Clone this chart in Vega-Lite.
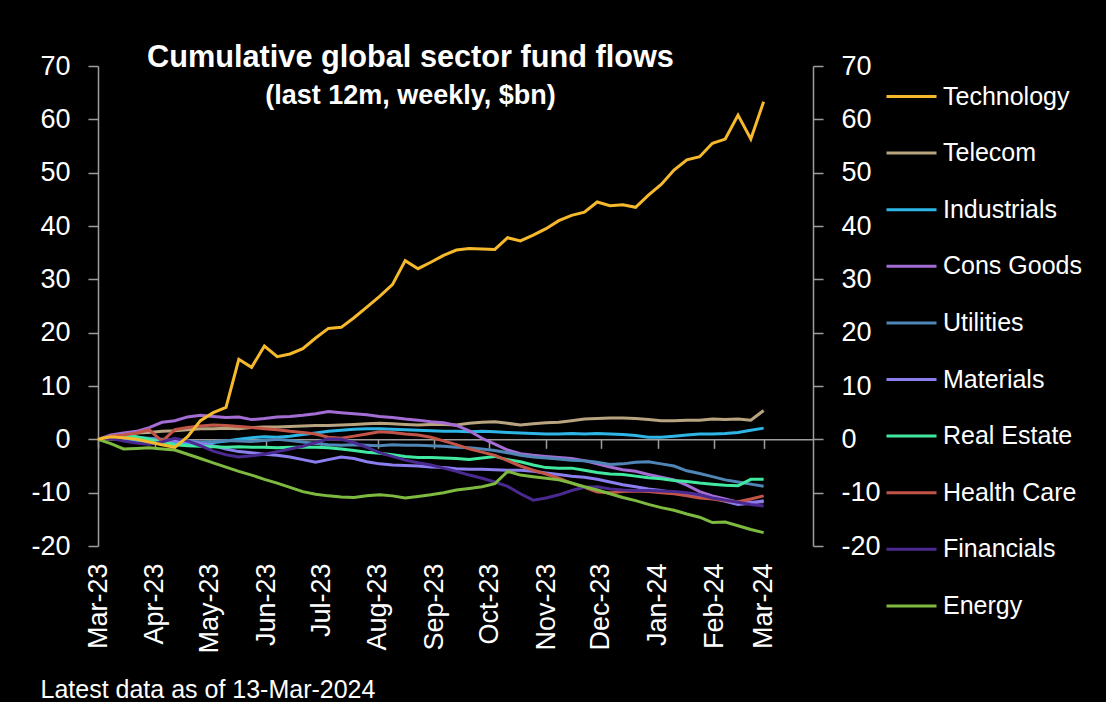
{
  "$schema": "https://vega.github.io/schema/vega-lite/v6.json",
  "width": 715,
  "height": 480,
  "autosize": {"type": "none"},
  "padding": {"left": 98, "top": 66, "right": 293, "bottom": 156},
  "background": "#000000",
  "config": {"view": {"stroke": null}, "font": "Liberation Sans"},
  "title": {
    "text": "Cumulative global sector fund flows",
    "subtitle": "(last 12m, weekly, $bn)",
    "font": "Liberation Sans",
    "fontSize": 30.7,
    "fontWeight": "bold",
    "color": "#FFFFFF",
    "subtitleFont": "Liberation Sans",
    "subtitleFontSize": 27,
    "subtitleFontWeight": "bold",
    "subtitleColor": "#FFFFFF",
    "subtitlePadding": 9,
    "anchor": "middle",
    "dx": -45,
    "offset": -58
  },
  "data": {"values": [
{"date":"2023-03-15","sector":"Technology","value":0},{"date":"2023-03-22","sector":"Technology","value":0.5},{"date":"2023-03-29","sector":"Technology","value":0.3},{"date":"2023-04-05","sector":"Technology","value":0},{"date":"2023-04-12","sector":"Technology","value":-0.5},{"date":"2023-04-19","sector":"Technology","value":-1},{"date":"2023-04-26","sector":"Technology","value":-1.5},{"date":"2023-05-03","sector":"Technology","value":0.5},{"date":"2023-05-10","sector":"Technology","value":3.5},{"date":"2023-05-17","sector":"Technology","value":5.0},{"date":"2023-05-24","sector":"Technology","value":6.0},{"date":"2023-05-31","sector":"Technology","value":15.0},{"date":"2023-06-07","sector":"Technology","value":13.5},{"date":"2023-06-14","sector":"Technology","value":17.5},{"date":"2023-06-21","sector":"Technology","value":15.5},{"date":"2023-06-28","sector":"Technology","value":16.0},{"date":"2023-07-05","sector":"Technology","value":17.0},{"date":"2023-07-12","sector":"Technology","value":19.0},{"date":"2023-07-19","sector":"Technology","value":20.8},{"date":"2023-07-26","sector":"Technology","value":21.0},{"date":"2023-08-02","sector":"Technology","value":22.8},{"date":"2023-08-09","sector":"Technology","value":24.8},{"date":"2023-08-16","sector":"Technology","value":26.8},{"date":"2023-08-23","sector":"Technology","value":29.0},{"date":"2023-08-30","sector":"Technology","value":33.5},{"date":"2023-09-06","sector":"Technology","value":32.0},{"date":"2023-09-13","sector":"Technology","value":33.2},{"date":"2023-09-20","sector":"Technology","value":34.5},{"date":"2023-09-27","sector":"Technology","value":35.5},{"date":"2023-10-04","sector":"Technology","value":35.8},{"date":"2023-10-11","sector":"Technology","value":35.7},{"date":"2023-10-18","sector":"Technology","value":35.6},{"date":"2023-10-25","sector":"Technology","value":37.8},{"date":"2023-11-01","sector":"Technology","value":37.2},{"date":"2023-11-08","sector":"Technology","value":38.3},{"date":"2023-11-15","sector":"Technology","value":39.5},{"date":"2023-11-22","sector":"Technology","value":41.0},{"date":"2023-11-29","sector":"Technology","value":42.0},{"date":"2023-12-06","sector":"Technology","value":42.6},{"date":"2023-12-13","sector":"Technology","value":44.5},{"date":"2023-12-20","sector":"Technology","value":43.8},{"date":"2023-12-27","sector":"Technology","value":44.0},{"date":"2024-01-03","sector":"Technology","value":43.5},{"date":"2024-01-10","sector":"Technology","value":45.8},{"date":"2024-01-17","sector":"Technology","value":47.8},{"date":"2024-01-24","sector":"Technology","value":50.5},{"date":"2024-01-31","sector":"Technology","value":52.4},{"date":"2024-02-07","sector":"Technology","value":53.0},{"date":"2024-02-14","sector":"Technology","value":55.5},{"date":"2024-02-21","sector":"Technology","value":56.3},{"date":"2024-02-28","sector":"Technology","value":60.8},{"date":"2024-03-06","sector":"Technology","value":56.3},{"date":"2024-03-13","sector":"Technology","value":63.3},
{"date":"2023-03-15","sector":"Telecom","value":0},{"date":"2023-03-22","sector":"Telecom","value":0.5},{"date":"2023-03-29","sector":"Telecom","value":1.0},{"date":"2023-04-05","sector":"Telecom","value":1.2},{"date":"2023-04-12","sector":"Telecom","value":1.3},{"date":"2023-04-19","sector":"Telecom","value":1.5},{"date":"2023-04-26","sector":"Telecom","value":1.6},{"date":"2023-05-03","sector":"Telecom","value":1.8},{"date":"2023-05-10","sector":"Telecom","value":2.0},{"date":"2023-05-17","sector":"Telecom","value":2.0},{"date":"2023-05-24","sector":"Telecom","value":2.1},{"date":"2023-05-31","sector":"Telecom","value":2.0},{"date":"2023-06-07","sector":"Telecom","value":2.2},{"date":"2023-06-14","sector":"Telecom","value":2.3},{"date":"2023-06-21","sector":"Telecom","value":2.3},{"date":"2023-06-28","sector":"Telecom","value":2.4},{"date":"2023-07-05","sector":"Telecom","value":2.5},{"date":"2023-07-12","sector":"Telecom","value":2.6},{"date":"2023-07-19","sector":"Telecom","value":2.6},{"date":"2023-07-26","sector":"Telecom","value":2.7},{"date":"2023-08-02","sector":"Telecom","value":2.8},{"date":"2023-08-09","sector":"Telecom","value":2.9},{"date":"2023-08-16","sector":"Telecom","value":3.0},{"date":"2023-08-23","sector":"Telecom","value":2.9},{"date":"2023-08-30","sector":"Telecom","value":2.8},{"date":"2023-09-06","sector":"Telecom","value":2.7},{"date":"2023-09-13","sector":"Telecom","value":2.8},{"date":"2023-09-20","sector":"Telecom","value":2.8},{"date":"2023-09-27","sector":"Telecom","value":2.7},{"date":"2023-10-04","sector":"Telecom","value":3.0},{"date":"2023-10-11","sector":"Telecom","value":3.2},{"date":"2023-10-18","sector":"Telecom","value":3.3},{"date":"2023-10-25","sector":"Telecom","value":3.0},{"date":"2023-11-01","sector":"Telecom","value":2.7},{"date":"2023-11-08","sector":"Telecom","value":2.9},{"date":"2023-11-15","sector":"Telecom","value":3.1},{"date":"2023-11-22","sector":"Telecom","value":3.2},{"date":"2023-11-29","sector":"Telecom","value":3.5},{"date":"2023-12-06","sector":"Telecom","value":3.8},{"date":"2023-12-13","sector":"Telecom","value":3.9},{"date":"2023-12-20","sector":"Telecom","value":4.0},{"date":"2023-12-27","sector":"Telecom","value":4.0},{"date":"2024-01-03","sector":"Telecom","value":3.9},{"date":"2024-01-10","sector":"Telecom","value":3.7},{"date":"2024-01-17","sector":"Telecom","value":3.5},{"date":"2024-01-24","sector":"Telecom","value":3.5},{"date":"2024-01-31","sector":"Telecom","value":3.6},{"date":"2024-02-07","sector":"Telecom","value":3.6},{"date":"2024-02-14","sector":"Telecom","value":3.8},{"date":"2024-02-21","sector":"Telecom","value":3.7},{"date":"2024-02-28","sector":"Telecom","value":3.8},{"date":"2024-03-06","sector":"Telecom","value":3.6},{"date":"2024-03-13","sector":"Telecom","value":5.4},
{"date":"2023-03-15","sector":"Industrials","value":0},{"date":"2023-03-22","sector":"Industrials","value":0.3},{"date":"2023-03-29","sector":"Industrials","value":0.2},{"date":"2023-04-05","sector":"Industrials","value":-0.3},{"date":"2023-04-12","sector":"Industrials","value":-0.5},{"date":"2023-04-19","sector":"Industrials","value":-0.3},{"date":"2023-04-26","sector":"Industrials","value":-0.6},{"date":"2023-05-03","sector":"Industrials","value":-0.8},{"date":"2023-05-10","sector":"Industrials","value":-1.0},{"date":"2023-05-17","sector":"Industrials","value":-0.6},{"date":"2023-05-24","sector":"Industrials","value":-0.3},{"date":"2023-05-31","sector":"Industrials","value":0.0},{"date":"2023-06-07","sector":"Industrials","value":0.3},{"date":"2023-06-14","sector":"Industrials","value":0.5},{"date":"2023-06-21","sector":"Industrials","value":0.4},{"date":"2023-06-28","sector":"Industrials","value":0.6},{"date":"2023-07-05","sector":"Industrials","value":0.9},{"date":"2023-07-12","sector":"Industrials","value":1.2},{"date":"2023-07-19","sector":"Industrials","value":1.5},{"date":"2023-07-26","sector":"Industrials","value":1.7},{"date":"2023-08-02","sector":"Industrials","value":1.9},{"date":"2023-08-09","sector":"Industrials","value":2.0},{"date":"2023-08-16","sector":"Industrials","value":2.0},{"date":"2023-08-23","sector":"Industrials","value":1.9},{"date":"2023-08-30","sector":"Industrials","value":1.8},{"date":"2023-09-06","sector":"Industrials","value":1.7},{"date":"2023-09-13","sector":"Industrials","value":1.6},{"date":"2023-09-20","sector":"Industrials","value":1.5},{"date":"2023-09-27","sector":"Industrials","value":1.5},{"date":"2023-10-04","sector":"Industrials","value":1.4},{"date":"2023-10-11","sector":"Industrials","value":1.5},{"date":"2023-10-18","sector":"Industrials","value":1.4},{"date":"2023-10-25","sector":"Industrials","value":1.3},{"date":"2023-11-01","sector":"Industrials","value":1.2},{"date":"2023-11-08","sector":"Industrials","value":1.1},{"date":"2023-11-15","sector":"Industrials","value":1.0},{"date":"2023-11-22","sector":"Industrials","value":1.0},{"date":"2023-11-29","sector":"Industrials","value":1.1},{"date":"2023-12-06","sector":"Industrials","value":1.0},{"date":"2023-12-13","sector":"Industrials","value":1.1},{"date":"2023-12-20","sector":"Industrials","value":1.0},{"date":"2023-12-27","sector":"Industrials","value":0.9},{"date":"2024-01-03","sector":"Industrials","value":0.7},{"date":"2024-01-10","sector":"Industrials","value":0.4},{"date":"2024-01-17","sector":"Industrials","value":0.4},{"date":"2024-01-24","sector":"Industrials","value":0.6},{"date":"2024-01-31","sector":"Industrials","value":0.8},{"date":"2024-02-07","sector":"Industrials","value":1.0},{"date":"2024-02-14","sector":"Industrials","value":1.0},{"date":"2024-02-21","sector":"Industrials","value":1.1},{"date":"2024-02-28","sector":"Industrials","value":1.3},{"date":"2024-03-06","sector":"Industrials","value":1.7},{"date":"2024-03-13","sector":"Industrials","value":2.1},
{"date":"2023-03-15","sector":"Cons Goods","value":0},{"date":"2023-03-22","sector":"Cons Goods","value":0.8},{"date":"2023-03-29","sector":"Cons Goods","value":1.2},{"date":"2023-04-05","sector":"Cons Goods","value":1.5},{"date":"2023-04-12","sector":"Cons Goods","value":2.2},{"date":"2023-04-19","sector":"Cons Goods","value":3.2},{"date":"2023-04-26","sector":"Cons Goods","value":3.5},{"date":"2023-05-03","sector":"Cons Goods","value":4.2},{"date":"2023-05-10","sector":"Cons Goods","value":4.5},{"date":"2023-05-17","sector":"Cons Goods","value":4.3},{"date":"2023-05-24","sector":"Cons Goods","value":4.1},{"date":"2023-05-31","sector":"Cons Goods","value":4.2},{"date":"2023-06-07","sector":"Cons Goods","value":3.7},{"date":"2023-06-14","sector":"Cons Goods","value":3.9},{"date":"2023-06-21","sector":"Cons Goods","value":4.2},{"date":"2023-06-28","sector":"Cons Goods","value":4.3},{"date":"2023-07-05","sector":"Cons Goods","value":4.5},{"date":"2023-07-12","sector":"Cons Goods","value":4.8},{"date":"2023-07-19","sector":"Cons Goods","value":5.2},{"date":"2023-07-26","sector":"Cons Goods","value":5.0},{"date":"2023-08-02","sector":"Cons Goods","value":4.8},{"date":"2023-08-09","sector":"Cons Goods","value":4.6},{"date":"2023-08-16","sector":"Cons Goods","value":4.3},{"date":"2023-08-23","sector":"Cons Goods","value":4.1},{"date":"2023-08-30","sector":"Cons Goods","value":3.8},{"date":"2023-09-06","sector":"Cons Goods","value":3.6},{"date":"2023-09-13","sector":"Cons Goods","value":3.3},{"date":"2023-09-20","sector":"Cons Goods","value":3.1},{"date":"2023-09-27","sector":"Cons Goods","value":2.6},{"date":"2023-10-04","sector":"Cons Goods","value":1.6},{"date":"2023-10-11","sector":"Cons Goods","value":0.2},{"date":"2023-10-18","sector":"Cons Goods","value":-0.9},{"date":"2023-10-25","sector":"Cons Goods","value":-2.0},{"date":"2023-11-01","sector":"Cons Goods","value":-2.7},{"date":"2023-11-08","sector":"Cons Goods","value":-3.0},{"date":"2023-11-15","sector":"Cons Goods","value":-3.2},{"date":"2023-11-22","sector":"Cons Goods","value":-3.4},{"date":"2023-11-29","sector":"Cons Goods","value":-3.6},{"date":"2023-12-06","sector":"Cons Goods","value":-4.0},{"date":"2023-12-13","sector":"Cons Goods","value":-4.6},{"date":"2023-12-20","sector":"Cons Goods","value":-5.2},{"date":"2023-12-27","sector":"Cons Goods","value":-5.7},{"date":"2024-01-03","sector":"Cons Goods","value":-6.0},{"date":"2024-01-10","sector":"Cons Goods","value":-6.6},{"date":"2024-01-17","sector":"Cons Goods","value":-7.1},{"date":"2024-01-24","sector":"Cons Goods","value":-7.6},{"date":"2024-01-31","sector":"Cons Goods","value":-8.6},{"date":"2024-02-07","sector":"Cons Goods","value":-9.8},{"date":"2024-02-14","sector":"Cons Goods","value":-10.6},{"date":"2024-02-21","sector":"Cons Goods","value":-11.2},{"date":"2024-02-28","sector":"Cons Goods","value":-11.8},{"date":"2024-03-06","sector":"Cons Goods","value":-11.8},{"date":"2024-03-13","sector":"Cons Goods","value":-11.7},
{"date":"2023-03-15","sector":"Utilities","value":0},{"date":"2023-03-22","sector":"Utilities","value":0.3},{"date":"2023-03-29","sector":"Utilities","value":0.5},{"date":"2023-04-05","sector":"Utilities","value":0.4},{"date":"2023-04-12","sector":"Utilities","value":0.2},{"date":"2023-04-19","sector":"Utilities","value":0},{"date":"2023-04-26","sector":"Utilities","value":-0.2},{"date":"2023-05-03","sector":"Utilities","value":-0.3},{"date":"2023-05-10","sector":"Utilities","value":-0.5},{"date":"2023-05-17","sector":"Utilities","value":-0.4},{"date":"2023-05-24","sector":"Utilities","value":-0.2},{"date":"2023-05-31","sector":"Utilities","value":-0.3},{"date":"2023-06-07","sector":"Utilities","value":-0.4},{"date":"2023-06-14","sector":"Utilities","value":-0.2},{"date":"2023-06-21","sector":"Utilities","value":0},{"date":"2023-06-28","sector":"Utilities","value":-0.2},{"date":"2023-07-05","sector":"Utilities","value":-0.5},{"date":"2023-07-12","sector":"Utilities","value":-0.8},{"date":"2023-07-19","sector":"Utilities","value":-1.0},{"date":"2023-07-26","sector":"Utilities","value":-1.1},{"date":"2023-08-02","sector":"Utilities","value":-1.0},{"date":"2023-08-09","sector":"Utilities","value":-1.1},{"date":"2023-08-16","sector":"Utilities","value":-1.2},{"date":"2023-08-23","sector":"Utilities","value":-1.0},{"date":"2023-08-30","sector":"Utilities","value":-1.1},{"date":"2023-09-06","sector":"Utilities","value":-1.1},{"date":"2023-09-13","sector":"Utilities","value":-1.2},{"date":"2023-09-20","sector":"Utilities","value":-1.3},{"date":"2023-09-27","sector":"Utilities","value":-1.5},{"date":"2023-10-04","sector":"Utilities","value":-1.6},{"date":"2023-10-11","sector":"Utilities","value":-1.8},{"date":"2023-10-18","sector":"Utilities","value":-2.1},{"date":"2023-10-25","sector":"Utilities","value":-2.5},{"date":"2023-11-01","sector":"Utilities","value":-3.0},{"date":"2023-11-08","sector":"Utilities","value":-3.3},{"date":"2023-11-15","sector":"Utilities","value":-3.5},{"date":"2023-11-22","sector":"Utilities","value":-3.7},{"date":"2023-11-29","sector":"Utilities","value":-3.9},{"date":"2023-12-06","sector":"Utilities","value":-4.0},{"date":"2023-12-13","sector":"Utilities","value":-4.3},{"date":"2023-12-20","sector":"Utilities","value":-4.7},{"date":"2023-12-27","sector":"Utilities","value":-4.6},{"date":"2024-01-03","sector":"Utilities","value":-4.3},{"date":"2024-01-10","sector":"Utilities","value":-4.2},{"date":"2024-01-17","sector":"Utilities","value":-4.6},{"date":"2024-01-24","sector":"Utilities","value":-5.0},{"date":"2024-01-31","sector":"Utilities","value":-5.9},{"date":"2024-02-07","sector":"Utilities","value":-6.4},{"date":"2024-02-14","sector":"Utilities","value":-7.0},{"date":"2024-02-21","sector":"Utilities","value":-7.6},{"date":"2024-02-28","sector":"Utilities","value":-8.0},{"date":"2024-03-06","sector":"Utilities","value":-8.4},{"date":"2024-03-13","sector":"Utilities","value":-8.8},
{"date":"2023-03-15","sector":"Materials","value":0},{"date":"2023-03-22","sector":"Materials","value":0.4},{"date":"2023-03-29","sector":"Materials","value":0.5},{"date":"2023-04-05","sector":"Materials","value":0.3},{"date":"2023-04-12","sector":"Materials","value":0},{"date":"2023-04-19","sector":"Materials","value":-0.2},{"date":"2023-04-26","sector":"Materials","value":-0.3},{"date":"2023-05-03","sector":"Materials","value":-0.4},{"date":"2023-05-10","sector":"Materials","value":-0.8},{"date":"2023-05-17","sector":"Materials","value":-1.2},{"date":"2023-05-24","sector":"Materials","value":-1.8},{"date":"2023-05-31","sector":"Materials","value":-2.3},{"date":"2023-06-07","sector":"Materials","value":-2.5},{"date":"2023-06-14","sector":"Materials","value":-2.8},{"date":"2023-06-21","sector":"Materials","value":-3.0},{"date":"2023-06-28","sector":"Materials","value":-3.3},{"date":"2023-07-05","sector":"Materials","value":-3.8},{"date":"2023-07-12","sector":"Materials","value":-4.3},{"date":"2023-07-19","sector":"Materials","value":-3.8},{"date":"2023-07-26","sector":"Materials","value":-3.3},{"date":"2023-08-02","sector":"Materials","value":-3.6},{"date":"2023-08-09","sector":"Materials","value":-4.2},{"date":"2023-08-16","sector":"Materials","value":-4.6},{"date":"2023-08-23","sector":"Materials","value":-4.8},{"date":"2023-08-30","sector":"Materials","value":-4.9},{"date":"2023-09-06","sector":"Materials","value":-5.0},{"date":"2023-09-13","sector":"Materials","value":-5.2},{"date":"2023-09-20","sector":"Materials","value":-5.3},{"date":"2023-09-27","sector":"Materials","value":-5.5},{"date":"2023-10-04","sector":"Materials","value":-5.6},{"date":"2023-10-11","sector":"Materials","value":-5.6},{"date":"2023-10-18","sector":"Materials","value":-5.7},{"date":"2023-10-25","sector":"Materials","value":-5.8},{"date":"2023-11-01","sector":"Materials","value":-5.8},{"date":"2023-11-08","sector":"Materials","value":-6.0},{"date":"2023-11-15","sector":"Materials","value":-6.3},{"date":"2023-11-22","sector":"Materials","value":-6.6},{"date":"2023-11-29","sector":"Materials","value":-6.9},{"date":"2023-12-06","sector":"Materials","value":-7.1},{"date":"2023-12-13","sector":"Materials","value":-7.5},{"date":"2023-12-20","sector":"Materials","value":-8.0},{"date":"2023-12-27","sector":"Materials","value":-8.5},{"date":"2024-01-03","sector":"Materials","value":-8.9},{"date":"2024-01-10","sector":"Materials","value":-9.3},{"date":"2024-01-17","sector":"Materials","value":-9.6},{"date":"2024-01-24","sector":"Materials","value":-10.0},{"date":"2024-01-31","sector":"Materials","value":-10.3},{"date":"2024-02-07","sector":"Materials","value":-10.6},{"date":"2024-02-14","sector":"Materials","value":-11.0},{"date":"2024-02-21","sector":"Materials","value":-11.6},{"date":"2024-02-28","sector":"Materials","value":-12.2},{"date":"2024-03-06","sector":"Materials","value":-12.0},{"date":"2024-03-13","sector":"Materials","value":-11.5},
{"date":"2023-03-15","sector":"Real Estate","value":0},{"date":"2023-03-22","sector":"Real Estate","value":0.5},{"date":"2023-03-29","sector":"Real Estate","value":0.8},{"date":"2023-04-05","sector":"Real Estate","value":0.5},{"date":"2023-04-12","sector":"Real Estate","value":0},{"date":"2023-04-19","sector":"Real Estate","value":-0.5},{"date":"2023-04-26","sector":"Real Estate","value":-1.0},{"date":"2023-05-03","sector":"Real Estate","value":-1.2},{"date":"2023-05-10","sector":"Real Estate","value":-1.3},{"date":"2023-05-17","sector":"Real Estate","value":-1.4},{"date":"2023-05-24","sector":"Real Estate","value":-1.5},{"date":"2023-05-31","sector":"Real Estate","value":-1.4},{"date":"2023-06-07","sector":"Real Estate","value":-1.5},{"date":"2023-06-14","sector":"Real Estate","value":-1.5},{"date":"2023-06-21","sector":"Real Estate","value":-1.6},{"date":"2023-06-28","sector":"Real Estate","value":-1.5},{"date":"2023-07-05","sector":"Real Estate","value":-1.5},{"date":"2023-07-12","sector":"Real Estate","value":-1.5},{"date":"2023-07-19","sector":"Real Estate","value":-1.6},{"date":"2023-07-26","sector":"Real Estate","value":-1.8},{"date":"2023-08-02","sector":"Real Estate","value":-2.1},{"date":"2023-08-09","sector":"Real Estate","value":-2.4},{"date":"2023-08-16","sector":"Real Estate","value":-2.6},{"date":"2023-08-23","sector":"Real Estate","value":-2.9},{"date":"2023-08-30","sector":"Real Estate","value":-3.2},{"date":"2023-09-06","sector":"Real Estate","value":-3.4},{"date":"2023-09-13","sector":"Real Estate","value":-3.4},{"date":"2023-09-20","sector":"Real Estate","value":-3.5},{"date":"2023-09-27","sector":"Real Estate","value":-3.6},{"date":"2023-10-04","sector":"Real Estate","value":-3.8},{"date":"2023-10-11","sector":"Real Estate","value":-3.5},{"date":"2023-10-18","sector":"Real Estate","value":-3.2},{"date":"2023-10-25","sector":"Real Estate","value":-3.8},{"date":"2023-11-01","sector":"Real Estate","value":-4.2},{"date":"2023-11-08","sector":"Real Estate","value":-4.8},{"date":"2023-11-15","sector":"Real Estate","value":-5.3},{"date":"2023-11-22","sector":"Real Estate","value":-5.4},{"date":"2023-11-29","sector":"Real Estate","value":-5.4},{"date":"2023-12-06","sector":"Real Estate","value":-5.8},{"date":"2023-12-13","sector":"Real Estate","value":-6.2},{"date":"2023-12-20","sector":"Real Estate","value":-6.5},{"date":"2023-12-27","sector":"Real Estate","value":-6.6},{"date":"2024-01-03","sector":"Real Estate","value":-6.9},{"date":"2024-01-10","sector":"Real Estate","value":-7.2},{"date":"2024-01-17","sector":"Real Estate","value":-7.4},{"date":"2024-01-24","sector":"Real Estate","value":-7.7},{"date":"2024-01-31","sector":"Real Estate","value":-7.9},{"date":"2024-02-07","sector":"Real Estate","value":-8.2},{"date":"2024-02-14","sector":"Real Estate","value":-8.4},{"date":"2024-02-21","sector":"Real Estate","value":-8.6},{"date":"2024-02-28","sector":"Real Estate","value":-8.7},{"date":"2024-03-06","sector":"Real Estate","value":-7.5},{"date":"2024-03-13","sector":"Real Estate","value":-7.5},
{"date":"2023-03-15","sector":"Health Care","value":0},{"date":"2023-03-22","sector":"Health Care","value":0.6},{"date":"2023-03-29","sector":"Health Care","value":0.8},{"date":"2023-04-05","sector":"Health Care","value":1.2},{"date":"2023-04-12","sector":"Health Care","value":1.8},{"date":"2023-04-19","sector":"Health Care","value":-0.4},{"date":"2023-04-26","sector":"Health Care","value":1.8},{"date":"2023-05-03","sector":"Health Care","value":2.2},{"date":"2023-05-10","sector":"Health Care","value":2.5},{"date":"2023-05-17","sector":"Health Care","value":2.7},{"date":"2023-05-24","sector":"Health Care","value":2.6},{"date":"2023-05-31","sector":"Health Care","value":2.4},{"date":"2023-06-07","sector":"Health Care","value":2.2},{"date":"2023-06-14","sector":"Health Care","value":2.0},{"date":"2023-06-21","sector":"Health Care","value":1.8},{"date":"2023-06-28","sector":"Health Care","value":1.5},{"date":"2023-07-05","sector":"Health Care","value":1.3},{"date":"2023-07-12","sector":"Health Care","value":1.0},{"date":"2023-07-19","sector":"Health Care","value":0.4},{"date":"2023-07-26","sector":"Health Care","value":0.2},{"date":"2023-08-02","sector":"Health Care","value":0.6},{"date":"2023-08-09","sector":"Health Care","value":1.0},{"date":"2023-08-16","sector":"Health Care","value":1.4},{"date":"2023-08-23","sector":"Health Care","value":1.3},{"date":"2023-08-30","sector":"Health Care","value":1.0},{"date":"2023-09-06","sector":"Health Care","value":0.8},{"date":"2023-09-13","sector":"Health Care","value":0.4},{"date":"2023-09-20","sector":"Health Care","value":-0.3},{"date":"2023-09-27","sector":"Health Care","value":-1.0},{"date":"2023-10-04","sector":"Health Care","value":-1.8},{"date":"2023-10-11","sector":"Health Care","value":-2.4},{"date":"2023-10-18","sector":"Health Care","value":-3.0},{"date":"2023-10-25","sector":"Health Care","value":-4.0},{"date":"2023-11-01","sector":"Health Care","value":-5.0},{"date":"2023-11-08","sector":"Health Care","value":-5.8},{"date":"2023-11-15","sector":"Health Care","value":-6.5},{"date":"2023-11-22","sector":"Health Care","value":-7.3},{"date":"2023-11-29","sector":"Health Care","value":-8.2},{"date":"2023-12-06","sector":"Health Care","value":-9.0},{"date":"2023-12-13","sector":"Health Care","value":-9.9},{"date":"2023-12-20","sector":"Health Care","value":-10.0},{"date":"2023-12-27","sector":"Health Care","value":-9.8},{"date":"2024-01-03","sector":"Health Care","value":-9.7},{"date":"2024-01-10","sector":"Health Care","value":-9.8},{"date":"2024-01-17","sector":"Health Care","value":-10.0},{"date":"2024-01-24","sector":"Health Care","value":-10.2},{"date":"2024-01-31","sector":"Health Care","value":-10.6},{"date":"2024-02-07","sector":"Health Care","value":-11.0},{"date":"2024-02-14","sector":"Health Care","value":-11.2},{"date":"2024-02-21","sector":"Health Care","value":-11.5},{"date":"2024-02-28","sector":"Health Care","value":-11.7},{"date":"2024-03-06","sector":"Health Care","value":-11.2},{"date":"2024-03-13","sector":"Health Care","value":-10.6},
{"date":"2023-03-15","sector":"Financials","value":0},{"date":"2023-03-22","sector":"Financials","value":0.2},{"date":"2023-03-29","sector":"Financials","value":-0.3},{"date":"2023-04-05","sector":"Financials","value":-0.7},{"date":"2023-04-12","sector":"Financials","value":-0.9},{"date":"2023-04-19","sector":"Financials","value":-0.5},{"date":"2023-04-26","sector":"Financials","value":0.2},{"date":"2023-05-03","sector":"Financials","value":-0.3},{"date":"2023-05-10","sector":"Financials","value":-1.2},{"date":"2023-05-17","sector":"Financials","value":-2.2},{"date":"2023-05-24","sector":"Financials","value":-2.9},{"date":"2023-05-31","sector":"Financials","value":-3.3},{"date":"2023-06-07","sector":"Financials","value":-3.1},{"date":"2023-06-14","sector":"Financials","value":-2.8},{"date":"2023-06-21","sector":"Financials","value":-2.3},{"date":"2023-06-28","sector":"Financials","value":-1.8},{"date":"2023-07-05","sector":"Financials","value":-1.3},{"date":"2023-07-12","sector":"Financials","value":-0.6},{"date":"2023-07-19","sector":"Financials","value":0.1},{"date":"2023-07-26","sector":"Financials","value":0.0},{"date":"2023-08-02","sector":"Financials","value":-0.6},{"date":"2023-08-09","sector":"Financials","value":-1.5},{"date":"2023-08-16","sector":"Financials","value":-2.5},{"date":"2023-08-23","sector":"Financials","value":-3.2},{"date":"2023-08-30","sector":"Financials","value":-3.9},{"date":"2023-09-06","sector":"Financials","value":-4.4},{"date":"2023-09-13","sector":"Financials","value":-4.8},{"date":"2023-09-20","sector":"Financials","value":-5.4},{"date":"2023-09-27","sector":"Financials","value":-6.0},{"date":"2023-10-04","sector":"Financials","value":-6.7},{"date":"2023-10-11","sector":"Financials","value":-7.3},{"date":"2023-10-18","sector":"Financials","value":-8.0},{"date":"2023-10-25","sector":"Financials","value":-8.8},{"date":"2023-11-01","sector":"Financials","value":-10.2},{"date":"2023-11-08","sector":"Financials","value":-11.4},{"date":"2023-11-15","sector":"Financials","value":-11.0},{"date":"2023-11-22","sector":"Financials","value":-10.4},{"date":"2023-11-29","sector":"Financials","value":-9.6},{"date":"2023-12-06","sector":"Financials","value":-9.0},{"date":"2023-12-13","sector":"Financials","value":-8.9},{"date":"2023-12-20","sector":"Financials","value":-9.3},{"date":"2023-12-27","sector":"Financials","value":-9.5},{"date":"2024-01-03","sector":"Financials","value":-9.6},{"date":"2024-01-10","sector":"Financials","value":-9.6},{"date":"2024-01-17","sector":"Financials","value":-9.7},{"date":"2024-01-24","sector":"Financials","value":-9.8},{"date":"2024-01-31","sector":"Financials","value":-10.0},{"date":"2024-02-07","sector":"Financials","value":-10.4},{"date":"2024-02-14","sector":"Financials","value":-11.0},{"date":"2024-02-21","sector":"Financials","value":-11.4},{"date":"2024-02-28","sector":"Financials","value":-11.8},{"date":"2024-03-06","sector":"Financials","value":-12.2},{"date":"2024-03-13","sector":"Financials","value":-12.5},
{"date":"2023-03-15","sector":"Energy","value":0},{"date":"2023-03-22","sector":"Energy","value":-0.8},{"date":"2023-03-29","sector":"Energy","value":-1.8},{"date":"2023-04-05","sector":"Energy","value":-1.7},{"date":"2023-04-12","sector":"Energy","value":-1.6},{"date":"2023-04-19","sector":"Energy","value":-1.8},{"date":"2023-04-26","sector":"Energy","value":-2.0},{"date":"2023-05-03","sector":"Energy","value":-2.8},{"date":"2023-05-10","sector":"Energy","value":-3.6},{"date":"2023-05-17","sector":"Energy","value":-4.4},{"date":"2023-05-24","sector":"Energy","value":-5.2},{"date":"2023-05-31","sector":"Energy","value":-6.0},{"date":"2023-06-07","sector":"Energy","value":-6.7},{"date":"2023-06-14","sector":"Energy","value":-7.5},{"date":"2023-06-21","sector":"Energy","value":-8.2},{"date":"2023-06-28","sector":"Energy","value":-9.0},{"date":"2023-07-05","sector":"Energy","value":-9.8},{"date":"2023-07-12","sector":"Energy","value":-10.3},{"date":"2023-07-19","sector":"Energy","value":-10.6},{"date":"2023-07-26","sector":"Energy","value":-10.8},{"date":"2023-08-02","sector":"Energy","value":-10.9},{"date":"2023-08-09","sector":"Energy","value":-10.6},{"date":"2023-08-16","sector":"Energy","value":-10.4},{"date":"2023-08-23","sector":"Energy","value":-10.6},{"date":"2023-08-30","sector":"Energy","value":-11.0},{"date":"2023-09-06","sector":"Energy","value":-10.7},{"date":"2023-09-13","sector":"Energy","value":-10.4},{"date":"2023-09-20","sector":"Energy","value":-10.0},{"date":"2023-09-27","sector":"Energy","value":-9.5},{"date":"2023-10-04","sector":"Energy","value":-9.2},{"date":"2023-10-11","sector":"Energy","value":-8.9},{"date":"2023-10-18","sector":"Energy","value":-8.3},{"date":"2023-10-25","sector":"Energy","value":-6.0},{"date":"2023-11-01","sector":"Energy","value":-6.7},{"date":"2023-11-08","sector":"Energy","value":-7.0},{"date":"2023-11-15","sector":"Energy","value":-7.3},{"date":"2023-11-22","sector":"Energy","value":-7.6},{"date":"2023-11-29","sector":"Energy","value":-8.2},{"date":"2023-12-06","sector":"Energy","value":-8.9},{"date":"2023-12-13","sector":"Energy","value":-9.5},{"date":"2023-12-20","sector":"Energy","value":-10.2},{"date":"2023-12-27","sector":"Energy","value":-10.9},{"date":"2024-01-03","sector":"Energy","value":-11.5},{"date":"2024-01-10","sector":"Energy","value":-12.2},{"date":"2024-01-17","sector":"Energy","value":-12.8},{"date":"2024-01-24","sector":"Energy","value":-13.3},{"date":"2024-01-31","sector":"Energy","value":-14.0},{"date":"2024-02-07","sector":"Energy","value":-14.6},{"date":"2024-02-14","sector":"Energy","value":-15.6},{"date":"2024-02-21","sector":"Energy","value":-15.5},{"date":"2024-02-28","sector":"Energy","value":-16.2},{"date":"2024-03-06","sector":"Energy","value":-16.9},{"date":"2024-03-13","sector":"Energy","value":-17.5}
  ]},
  "resolve": {"axis": {"x": "independent", "y": "independent"}},
  "layer": [
    {
      "transform": [{"filter": "datum.sector !== 'Technology'"}],
      "mark": {"type": "line", "strokeWidth": 3},
      "encoding": {
        "x": {
          "field": "date", "type": "temporal",
          "scale": {"type": "utc", "domain": [{"year": 2023, "month": 3, "date": 15, "utc": true}, {"year": 2024, "month": 4, "date": 9, "utc": true}]},
          "axis": {
            "orient": "bottom",
            "values": [{"year": 2023, "month": 3, "date": 15, "utc": true}, {"year": 2023, "month": 4, "date": 15, "utc": true}, {"year": 2023, "month": 5, "date": 15, "utc": true}, {"year": 2023, "month": 6, "date": 15, "utc": true}, {"year": 2023, "month": 7, "date": 15, "utc": true}, {"year": 2023, "month": 8, "date": 15, "utc": true}, {"year": 2023, "month": 9, "date": 15, "utc": true}, {"year": 2023, "month": 10, "date": 15, "utc": true}, {"year": 2023, "month": 11, "date": 15, "utc": true}, {"year": 2023, "month": 12, "date": 15, "utc": true}, {"year": 2024, "month": 1, "date": 15, "utc": true}, {"year": 2024, "month": 2, "date": 15, "utc": true}, {"year": 2024, "month": 3, "date": 13, "utc": true}],
            "format": "%b-%y",
            "labelAngle": 270,
            "labelFont": "Liberation Sans",
            "labelFontSize": 27,
            "labelColor": "#FFFFFF",
            "labelPadding": 17,
            "labelOverlap": false,
            "labelFlush": false,
            "domain": false,
            "ticks": false,
            "grid": false,
            "title": "Latest data as of 13-Mar-2024",
            "titleFont": "Liberation Sans",
            "titleFontSize": 25,
            "titleFontWeight": "normal",
            "titleColor": "#FFFFFF",
            "titleAngle": 0,
            "titleAlign": "left",
            "titleBaseline": "alphabetic",
            "titleX": -58,
            "titleY": 151
          }
        },
        "y": {
          "field": "value", "type": "quantitative",
          "scale": {"domain": [-20, 70], "nice": false, "zero": false},
          "axis": {
            "orient": "left",
            "values": [-20, -10, 0, 10, 20, 30, 40, 50, 60, 70],
            "labelExpr": "datum.value < 0 ? '-' + abs(datum.value) : '' + datum.value",
            "labelFont": "Liberation Sans",
            "labelFontSize": 27,
            "labelColor": "#FFFFFF",
            "domainColor": "#9E9E9E",
            "domainWidth": 1.5,
            "tickColor": "#9E9E9E",
            "tickWidth": 1.5,
            "tickSize": 10,
            "labelPadding": 18,
            "grid": false,
            "title": null
          }
        },
        "color": {
          "field": "sector", "type": "nominal",
          "scale": {
            "domain": ["Technology", "Telecom", "Industrials", "Cons Goods", "Utilities", "Materials", "Real Estate", "Health Care", "Financials", "Energy"],
            "range": ["#F6B92B", "#B8A47E", "#2DB5E6", "#A46DD4", "#4F86B5", "#8B7FF0", "#40E8A0", "#C25548", "#4A2A90", "#7DBA3F"]
          },
          "legend": {
            "orient": "none", "legendX": 787, "legendY": 4, "title": null,
            "symbolType": "stroke", "symbolSize": 2500, "symbolStrokeWidth": 3,
            "labelFont": "Liberation Sans", "labelFontSize": 25, "labelColor": "#FFFFFF",
            "labelOffset": 5, "rowPadding": 16.6, "labelLimit": 300
          }
        }
      }
    },
    {
      "transform": [{"filter": "datum.sector === 'Technology'"}],
      "mark": {"type": "line", "strokeWidth": 3},
      "encoding": {
        "x": {
          "field": "date", "type": "temporal",
          "axis": {
            "orient": "bottom",
            "offset": -106.67,
            "values": [{"year": 2023, "month": 3, "date": 15, "utc": true}, {"year": 2023, "month": 4, "date": 15, "utc": true}, {"year": 2023, "month": 5, "date": 15, "utc": true}, {"year": 2023, "month": 6, "date": 15, "utc": true}, {"year": 2023, "month": 7, "date": 15, "utc": true}, {"year": 2023, "month": 8, "date": 15, "utc": true}, {"year": 2023, "month": 9, "date": 15, "utc": true}, {"year": 2023, "month": 10, "date": 15, "utc": true}, {"year": 2023, "month": 11, "date": 15, "utc": true}, {"year": 2023, "month": 12, "date": 15, "utc": true}, {"year": 2024, "month": 1, "date": 15, "utc": true}, {"year": 2024, "month": 2, "date": 15, "utc": true}, {"year": 2024, "month": 3, "date": 13, "utc": true}],
            "labels": false,
            "domain": true,
            "domainColor": "#9E9E9E",
            "domainWidth": 1.5,
            "ticks": true,
            "tickColor": "#9E9E9E",
            "tickWidth": 1.5,
            "tickSize": 9,
            "grid": false,
            "title": null
          }
        },
        "y": {
          "field": "value", "type": "quantitative",
          "axis": {
            "orient": "right",
            "values": [-20, -10, 0, 10, 20, 30, 40, 50, 60, 70],
            "labelExpr": "datum.value < 0 ? '-' + abs(datum.value) : '' + datum.value",
            "labelFont": "Liberation Sans",
            "labelFontSize": 27,
            "labelColor": "#FFFFFF",
            "domainColor": "#9E9E9E",
            "domainWidth": 1.5,
            "tickColor": "#9E9E9E",
            "tickWidth": 1.5,
            "tickSize": 10,
            "labelPadding": 18,
            "grid": false,
            "title": null
          }
        },
        "color": {
          "field": "sector", "type": "nominal",
          "legend": {
            "orient": "none", "legendX": 787, "legendY": 4, "title": null,
            "symbolType": "stroke", "symbolSize": 2500, "symbolStrokeWidth": 3,
            "labelFont": "Liberation Sans", "labelFontSize": 25, "labelColor": "#FFFFFF",
            "labelOffset": 5, "rowPadding": 16.6, "labelLimit": 300
          }
        }
      }
    }
  ]
}
